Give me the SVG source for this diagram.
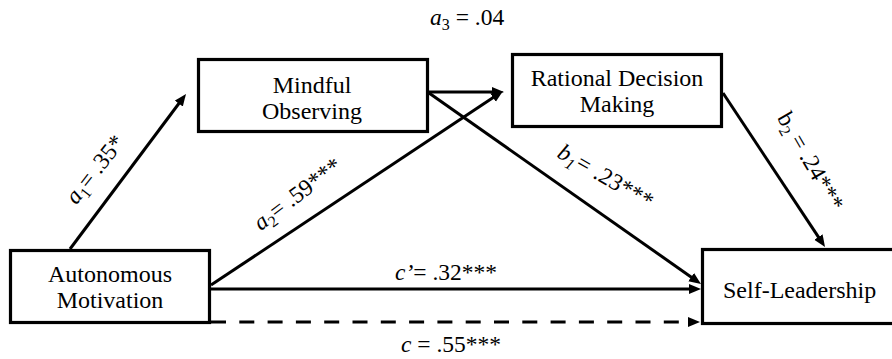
<svg xmlns="http://www.w3.org/2000/svg" width="892" height="359" viewBox="0 0 892 359">
<style>
.box{fill:#fff;stroke:#000;stroke-width:3.2}
.t{font-size:24px;fill:#000}
.lab{font-size:23.5px;fill:#000}
.i{font-style:italic}
.edge{stroke:#000;stroke-width:3;fill:none}
</style>
<defs>
<marker id="ah" markerUnits="userSpaceOnUse" markerWidth="13" markerHeight="11" refX="2" refY="5" orient="auto">
<path d="M0,0 L12,5 L0,10 z" fill="#000"/>
</marker>
</defs>
<rect width="892" height="359" fill="#fff"/>
<g id="connectors">
<line class="edge" x1="70" y1="249" x2="180" y2="102" marker-end="url(#ah)"/>
<line class="edge" x1="211" y1="285" x2="494.7" y2="96.5" marker-end="url(#ah)"/>
<line class="edge" x1="429" y1="92" x2="494" y2="92" marker-end="url(#ah)"/>
<line class="edge" x1="429" y1="93" x2="692.8" y2="278.2" marker-end="url(#ah)"/>
<line class="edge" x1="723" y1="93" x2="819.5" y2="238.7" marker-end="url(#ah)"/>
<line class="edge" x1="211" y1="289" x2="691" y2="289" marker-end="url(#ah)"/>
<line class="edge" x1="211" y1="322" x2="690" y2="322" stroke-dasharray="15 13.3" marker-end="url(#ah)"/>
</g>
<g font-family="'Liberation Serif', Tinos, 'Times New Roman', 'DejaVu Serif', serif">
<g id="node-autonomous">
<rect class="box" x="10.5" y="250.5" width="199" height="72"/>
<text class="t" text-anchor="middle" x="110" y="282">Autonomous</text>
<text class="t" text-anchor="middle" x="110" y="308">Motivation</text>
</g>
<g id="node-mindful">
<rect class="box" x="198.5" y="59.5" width="229" height="72"/>
<text class="t" text-anchor="middle" x="312" y="93">Mindful</text>
<text class="t" text-anchor="middle" x="312" y="119">Observing</text>
</g>
<g id="node-rational">
<rect class="box" x="512.5" y="54.5" width="209" height="72"/>
<text class="t" text-anchor="middle" x="617" y="86">Rational Decision</text>
<text class="t" text-anchor="middle" x="617" y="112">Making</text>
</g>
<g id="node-self">
<rect class="box" x="702.5" y="249.5" width="200" height="74"/>
<text class="t" x="723" y="298">Self-Leadership</text>
</g>
<g id="labels">
<text class="lab" x="430" y="25"><tspan class="i">a</tspan><tspan dy="5" font-size="16">3</tspan><tspan dy="-5"> = .04</tspan></text>
<text class="lab" text-anchor="middle" transform="translate(101,174) rotate(-52)"><tspan class="i">a</tspan><tspan dy="5" font-size="16">1</tspan><tspan dy="-5">= .35*</tspan></text>
<text class="lab" text-anchor="middle" transform="translate(302,200) rotate(-37)"><tspan class="i">a</tspan><tspan dy="5" font-size="16">2</tspan><tspan dy="-5">= .59***</tspan></text>
<text class="lab" text-anchor="middle" transform="translate(602,183) rotate(30)"><tspan class="i">b</tspan><tspan class="i" dy="5" font-size="16">1</tspan><tspan dy="-5" class="i">= </tspan><tspan>.23***</tspan></text>
<text class="lab" text-anchor="middle" transform="translate(804,165) rotate(60)"><tspan>b</tspan><tspan dy="5" font-size="16">2</tspan><tspan dy="-5"> = .24***</tspan></text>
<text class="lab" text-anchor="middle" x="446" y="280"><tspan class="i">c’</tspan>= .32***</text>
<text class="lab" text-anchor="middle" x="451" y="352"><tspan class="i">c</tspan> = .55***</text>
</g>
</g>
</svg>
